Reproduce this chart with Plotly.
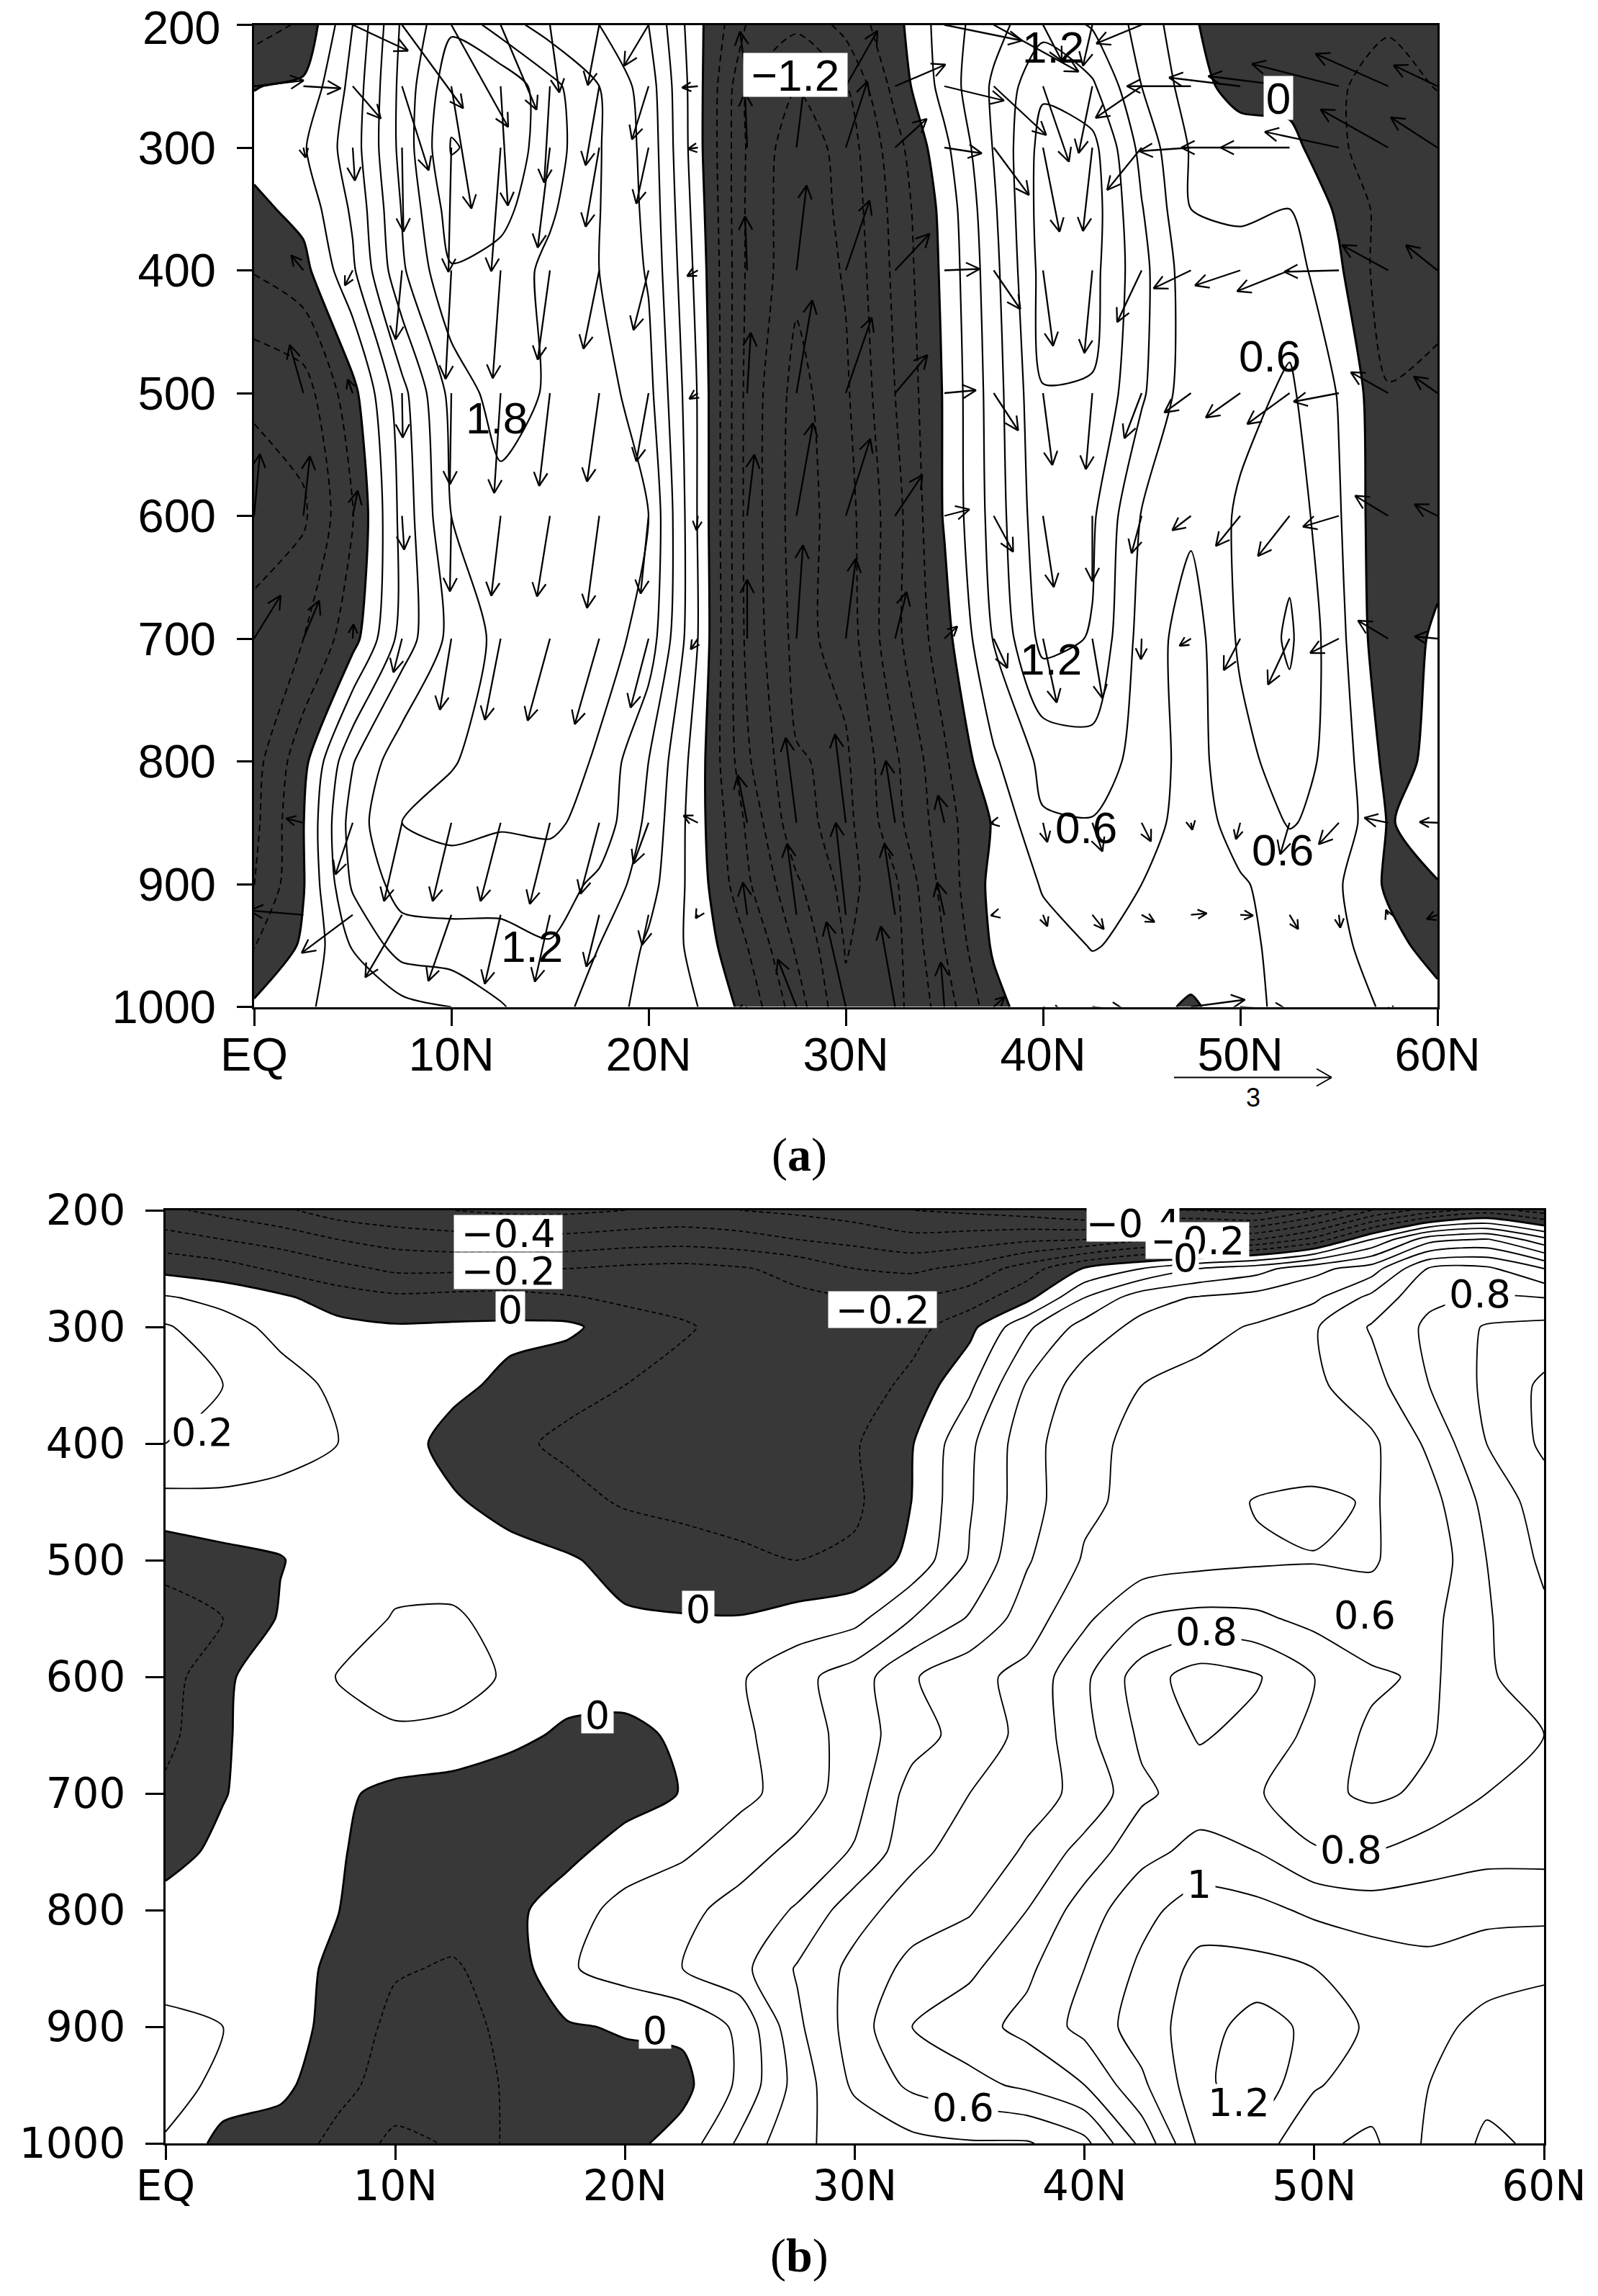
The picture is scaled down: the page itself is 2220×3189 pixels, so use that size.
import numpy as np
import plotly.graph_objects as go

W, H = 2220, 3189
LAT = [0, 2.5, 5, 7.5, 10, 12.5, 15, 17.5, 20, 22.5, 25, 27.5, 30, 32.5, 35, 37.5, 40, 42.5, 45, 47.5, 50, 52.5, 55, 57.5, 60]
LAT_TICKS = [0, 10, 20, 30, 40, 50, 60]
LAT_LABELS = ["EQ", "10N", "20N", "30N", "40N", "50N", "60N"]
P_TICKS = [200, 300, 400, 500, 600, 700, 800, 900, 1000]

# panel (a) field, one list per pressure level
PA = [200, 250, 300, 350, 400, 500, 600, 700, 800, 850, 900, 950, 1000]
A200 = [-.45, -.25, .6, 1.55, 2.05, 1.65, 1.35, 1.2, .9, .08, -.62, -.85, -.5, -.1, .45, .8, 1.1, .87, .5, .05, -.25, -.25, -.28, -.28, -.22]
A250 = [-.01, .05, .7, 1.6, 2.3, 2.35, 1.9, 1.5, 1.05, .1, -.9, -1.19, -.92, -.2, .42, .95, 1.45, 1.25, .6, .15, -.15, -.12, -.28, -.38, -.29]
A300 = [.12, .27, .75, 1.6, 2.42, 2.3, 1.95, 1.52, 1.1, .1, -.93, -1.4, -1.08, -.42, .22, .92, 1.62, 1.6, .8, .27, .2, .1, -.25, -.5, -.42]
A350 = [-.08, .1, .65, 1.52, 2.25, 2.2, 1.85, 1.51, 1.13, .15, -.95, -1.42, -1.12, -.5, .1, .85, 1.65, 1.65, .92, .3, .28, .3, -.05, -.44, -.42]
A400 = [-.28, -.1, .55, 1.45, 2.08, 1.98, 1.72, 1.5, 1.17, .2, -.95, -1.42, -1.17, -.53, .07, .8, 1.62, 1.6, 1.0, .4, .35, .45, .05, -.5, -.42]
A500 = [-.85, -.75, -.1, .8, 1.6, 1.95, 1.76, 1.65, 1.3, .28, -1.0, -1.62, -1.25, -.6, .03, .75, 1.49, 1.48, .95, .4, .5, .65, .28, -.28, -.22]
A600 = [-1.05, -.95, -.32, .7, 1.5, 1.68, 1.65, 1.6, 1.5, .28, -1.0, -1.65, -1.33, -.72, .03, .72, 1.42, 1.25, .58, .36, .65, .8, .33, -.28, -.2]
A700 = [-.8, -.6, -.12, .72, 1.3, 1.58, 1.65, 1.65, 1.38, .3, -.98, -1.6, -1.38, -.68, -.12, .62, 1.3, 1.18, .48, .15, .65, .95, .4, -.28, .08]
A800 = [-.72, -.1, .88, 1.42, 1.48, 1.62, 1.7, 1.45, .9, .15, -.85, -1.48, -1.55, -.95, -.35, .25, .68, .78, .48, .18, .5, .75, .48, -.1, .07]
A850 = [-.68, -.01, 1.05, 1.5, 1.6, 1.53, 1.55, 1.4, .82, .12, -.65, -1.42, -1.6, -1.0, -.42, .03, .57, .58, .45, .15, .42, .62, .5, -.02, .12]
A900 = [-.62, -.02, .95, 1.33, 1.33, 1.33, 1.36, 1.13, .72, .15, -.55, -1.15, -1.6, -1.25, -.48, .1, .32, .38, .3, .2, .27, .42, .33, -.05, -.01]
A950 = [-.32, .05, .62, 1.05, 1.1, 1.1, 1.18, .9, .55, .2, -.3, -.95, -1.52, -1.3, -.6, .05, .22, .31, .26, .2, .24, .38, .38, .1, -.12]
A1000 = [.05, .25, .45, .5, .6, .88, 1.05, .75, .5, .3, -.1, -.75, -1.45, -1.3, -.75, -.12, .25, .2, .12, -.05, .18, .4, .45, .25, .1]
ZA = [A200, A250, A300, A350, A400, A500, A600, A700, A800, A850, A900, A950, A1000]

# panel (b) field
PB = [200, 225, 250, 275, 300, 350, 400, 450, 500, 550, 600, 650, 700, 750, 800, 850, 900, 950, 1000]
B200 = [-.28, -.33, -.38, -.45, -.48, -.5, -.52, -.52, -.5, -.48, -.5, -.52, -.55, -.6, -.62, -.65, -.7, -.7, -.7, -.75, -.6, -.4, -.25, -.15, -.25]
B225 = [-.16, -.2, -.24, -.3, -.34, -.36, -.37, -.37, -.35, -.34, -.36, -.4, -.43, -.47, -.45, -.42, -.4, -.32, -.35, -.3, -.17, .1, .36, .41, .23]
B250 = [-.03, -.06, -.12, -.17, -.22, -.22, -.2, -.2, -.18, -.17, -.19, -.23, -.3, -.32, -.27, -.15, .01, .1, .2, .26, .37, .45, .71, .72, .6]
B275 = [.11, .07, .02, -.05, -.08, -.07, -.07, -.09, -.12, -.13, -.15, -.18, -.2, -.2, -.15, -.03, .2, .36, .41, .44, .48, .63, .78, .81, .8]
B300 = [.21, .14, .07, .03, .01, .015, .02, .02, -.05, -.09, -.13, -.15, -.17, -.14, -.03, .18, .34, .43, .47, .51, .59, .71, .82, .91, .93]
B350 = [.28, .2, .14, .08, .04, .02, -.02, -.07, -.1, -.13, -.16, -.17, -.16, -.07, .08, .31, .45, .5, .53, .55, .58, .66, .8, .92, 1.02]
B400 = [.2, .19, .16, .1, .04, -.03, -.08, -.12, -.14, -.15, -.16, -.16, -.11, -.005, .18, .36, .48, .52, .53, .53, .53, .58, .72, .9, 1.02]
B450 = [.07, .07, .05, .04, .03, .01, -.03, -.07, -.11, -.13, -.14, -.13, -.12, .002, .19, .36, .48, .53, .55, .607, .625, .59, .66, .83, .95]
B500 = [-.07, -.03, -.005, .05, .05, .05, .03, .01, -.03, -.05, -.08, -.1, -.08, .03, .21, .39, .51, .55, .57, .585, .595, .595, .63, .8, .92]
B550 = [-.14, -.1, .01, .03, .11, .115, .06, .03, .01, .005, .005, .04, .07, .2, .31, .45, .58, .7, .73, .72, .67, .62, .67, .79, .88]
B600 = [-.15, -.012, .04, .105, .13, .13, .09, .05, .05, .06, .09, .17, .25, .39, .47, .53, .68, .85, .95, .91, .8, .72, .68, .78, .88]
B650 = [-.13, -.01, .05, .06, .09, .08, .03, -.02, -.03, .02, .085, .14, .25, .36, .44, .53, .67, .82, .91, .87, .77, .68, .69, .77, .8]
B700 = [-.08, -.005, .05, .02, -.03, -.05, -.07, -.06, -.05, .005, .075, .14, .26, .44, .5, .57, .62, .78, .85, .81, .73, .68, .72, .8, .8]
B750 = [-.03, .02, .04, .01, -.05, -.07, -.07, -.03, .05, .085, .15, .23, .31, .47, .55, .61, .74, .87, .93, .9, .81, .8, .85, .87, .87]
B800 = [.03, .03, .03, .002, -.05, -.06, -.03, .06, .13, .17, .24, .31, .46, .55, .59, .7, .85, .97, 1.05, 1.03, .98, .95, .95, .97, .97]
B850 = [.05, .05, .04, -.02, -.09, -.11, -.06, .09, .14, .2, .27, .41, .53, .63, .68, .78, .9, 1.02, 1.13, 1.13, 1.1, 1.06, 1.03, 1.06, 1.08]
B900 = [.13, .1, .04, -.03, -.13, -.13, -.08, -.01, .01, .02, .12, .38, .55, .7, .76, .83, .93, 1.05, 1.15, 1.25, 1.17, 1.08, 1.07, 1.13, 1.15]
B950 = [.18, .05, .03, -.08, -.13, -.14, -.09, -.05, -.04, -.03, .12, .34, .52, .62, .67, .72, .8, .98, 1.17, 1.27, 1.11, 1.05, 1.1, 1.17, 1.17]
B1000 = [.08, -.03, -.06, -.12, -.23, -.19, -.08, -.05, -.03, .04, .22, .39, .42, .47, .49, .49, .57, .83, 1.12, 1.15, 1.02, .98, 1.12, 1.22, 1.18]
ZB = [B200, B225, B250, B275, B300, B350, B400, B450, B500, B550, B600, B650, B700, B750, B800, B850, B900, B950, B1000]

# wind vectors of panel (a): eastward and downward parts, on the scale where the key arrow "3" measures 219
PV = [200, 250, 300, 400, 500, 600, 700, 850, 925, 1000]
U200 = [0, 0, 77, 85, 79, 50, 13, -16, -34, 0, 0, 0, 0, 0, 108, 118, 26, -13, -63, 0, 0, 0, 0, 0, 0]
V200 = [0, 0, 36, 116, 142, 118, 94, 84, 57, 0, 0, 0, 0, 0, 22, 65, 50, 57, 26, 0, 0, 0, 0, 0, 0]
U250 = [69, 52, 39, 37, 28, 10, -8, -19, -23, -22, -10, 14, 44, 70, 83, 73, 36, -19, -64, -89, -99, -113, -121, -101, -61]
V250 = [-8, 3, 45, 117, 170, 166, 134, 110, 74, 2, -76, -29, -77, -30, 20, 68, 105, 93, 44, 0, -12, -14, -31, -45, -29]
U300 = [0, 3, 3, 2, -4, -13, -17, -19, -17, -14, -3, 14, 30, 44, 52, 49, 23, -13, -48, -72, -82, -96, -103, -94, -65]
V300 = [0, 14, 46, 117, 173, 172, 139, 110, 78, 2, -76, -114, -92, -40, 8, 66, 117, 116, 59, 5, 0, 0, -22, -53, -42]
U400 = [0, -17, -11, -9, -8, -11, -17, -22, -21, -15, -3, 14, 33, 48, 49, 37, 14, -11, -34, -52, -63, -73, -76, -64, -44]
V400 = [0, -21, 21, 96, 151, 150, 124, 109, 83, 8, -75, -118, -97, -51, -2, 54, 105, 115, 72, 25, 21, 29, 2, -35, -35]
U500 = [0, -19, -7, 1, -2, -9, -15, -17, -17, -12, 5, 22, 36, 45, 44, 34, 13, -9, -24, -37, -48, -59, -63, -52, -33]
V500 = [0, -67, -19, 62, 127, 139, 129, 123, 95, 8, -84, -129, -105, -53, -4, 52, 100, 106, 63, 27, 34, 43, 12, -29, -23]
U600 = [8, 9, 7, 3, -2, -13, -18, -17, -11, -2, 10, 23, 34, 38, 35, 27, 15, 0, -14, -26, -34, -44, -50, -46, -32]
V600 = [-86, -83, -35, 47, 105, 111, 112, 128, 108, 20, -85, -129, -107, -57, -9, 50, 99, 91, 52, 20, 42, 56, 15, -28, -16]
U700 = [37, 22, 1, -12, -16, -22, -31, -34, -25, -10, 0, 9, 14, 16, 18, 19, 19, 14, -1, -16, -23, -30, -40, -42, -32]
V700 = [-60, -53, -20, 47, 99, 113, 114, 119, 96, 15, -82, -130, -111, -65, -17, 41, 89, 83, 29, 10, 44, 64, 20, -25, -3]
U850 = [0, -24, -24, -25, -26, -28, -28, -26, -21, -20, -13, -15, -15, -13, -9, -5, 6, 14, 13, 2, -6, -13, -28, -33, -25]
V850 = [0, -6, 72, 109, 109, 109, 113, 99, 57, -10, -66, -118, -123, -86, -38, 1, 27, 40, 26, 10, 23, 44, 30, -7, -1]
U925 = [0, -75, -71, -51, -32, -22, -21, -18, -9, -3, -6, -13, -14, -15, -10, -4, 6, 16, 18, 22, 18, 12, 2, -3, -15]
V925 = [0, -6, 53, 87, 92, 96, 93, 72, 42, 5, -45, -99, -128, -99, -45, 1, 16, 20, 10, -2, 1, 20, 18, -7, 6]
U1000 = [0, 0, 0, 0, 0, 0, 0, 0, 0, 0, -14, -26, -27, -20, -5, 15, 30, 46, 0, 75, 67, 0, 0, 8, 0]
V1000 = [0, 0, 0, 0, 0, 0, 0, 0, 0, 0, 9, -66, -118, -112, -62, -14, 12, 5, 0, -10, 5, 0, 0, 12, 0]
UV = [U200, U250, U300, U400, U500, U600, U700, U850, U925, U1000]
VV = [V200, V250, V300, V400, V500, V600, V700, V850, V925, V1000]
KEY_VALUE = 3
KEY_LEN = 219

# panel frames in pixels
AX = (353, 1997, 34.5, 1398.5)
BX = (230, 2145, 1681, 2977)
DARK = "#383838"


def dom(box):
    return ([box[0] / W, box[1] / W], [1 - box[3] / H, 1 - box[2] / H])


def fieldtraces(z, ps, xa, ya, lev_pos, lev_neg, width, dash):
    com = dict(x=LAT, y=ps, z=z, xaxis=xa, yaxis=ya, showscale=False, hoverinfo="skip")
    return [
        go.Contour(contours=dict(type="constraint", operation=">", value=0), fillcolor=DARK,
                   line=dict(color="black", width=width + .8, smoothing=.7), **com),
        go.Contour(contours=dict(coloring="none", start=lev_pos[0], end=lev_pos[1], size=lev_pos[2]),
                   line=dict(color="black", width=width, smoothing=.7), **com),
        go.Contour(contours=dict(coloring="none", start=lev_neg[0], end=lev_neg[1], size=lev_neg[2]),
                   line=dict(color="black", width=width * .9, dash=dash, smoothing=.7), **com),
    ]


def arrow_xy(lon0, p0, dx, dy, kx, ky, barb=21):
    length = np.hypot(dx, dy)
    if length == 0:
        return [], []
    hx, hy = lon0 + dx * kx, p0 + dy * ky
    xs, ys = [lon0, hx], [p0, hy]
    ang = np.arctan2(dy, dx)
    b = min(barb, max(14, length * .6))
    for s in (1, -1):
        a = ang + np.pi + s * .47
        xs += [None, hx, hx + b * np.cos(a) * kx]
        ys += [None, hy, hy + b * np.sin(a) * ky]
    return xs + [None], ys + [None]


kx = 60 / (AX[1] - AX[0])
ky = 800 / (AX[3] - AX[2])
qx, qy = [], []
for p, ur, vr in zip(PV, UV, VV):
    for lat, u, v in zip(LAT, ur, vr):
        a, b = arrow_xy(lat, p, u, v, kx, ky)
        qx += a
        qy += b

fig = go.Figure()
for t in fieldtraces(ZA, PA, "x", "y", (.3, 2.4, .3), (-1.5, -.3, .3), 2.2, "9px,6px"):
    fig.add_trace(t)
fig.add_trace(go.Scatter(x=qx, y=qy, mode="lines", line=dict(color="black", width=2.3),
                         xaxis="x", yaxis="y", hoverinfo="skip", showlegend=False))
for t in fieldtraces(ZB, PB, "x2", "y2", (.1, 1.2, .1), (-.7, -.1, .1), 1.9, "6px,4px"):
    fig.add_trace(t)


def axis(box, is_x, font, stand, ticklen):
    d = dom(box)[0 if is_x else 1]
    base = dict(domain=d, showgrid=False, zeroline=False, showline=True, mirror=True, linecolor="black",
                linewidth=3, ticks="outside", ticklen=ticklen, tickwidth=3, tickcolor="black",
                tickfont=font, ticklabelstandoff=stand, automargin=False)
    if is_x:
        base.update(range=[0, 60], tickvals=LAT_TICKS, ticktext=LAT_LABELS)
    else:
        base.update(range=[1000, 200], tickvals=P_TICKS, ticktext=[str(v) for v in P_TICKS])
    return base


FA = dict(family="Liberation Sans", size=65, color="black")
FT = dict(family="Liberation Sans", size=62, color="black")
FB = dict(family="DejaVu Sans", size=58, color="black")

# the top label of panel (a) sits too near the page edge for an axis label, so it is an annotation
YA = axis(AX, False, FA, 16, 21)
YA["ticktext"] = [""] + YA["ticktext"][1:]

fig.update_layout(
    width=W, height=H, autosize=False, margin=dict(l=0, r=0, t=0, b=0), paper_bgcolor="white",
    plot_bgcolor="white", showlegend=False,
    xaxis=dict(axis(AX, True, FA, -16, 23), anchor="y"),
    yaxis=dict(YA, anchor="x"),
    xaxis2=dict(axis(BX, True, FB, -14, 20), anchor="y2"),
    yaxis2=dict(axis(BX, False, FB, 16, 25), anchor="x2"),
)

# contour labels of panel (a): text, latitude, pressure, white box or not
LABELS_A = [("1.8", 12.3, 520, False), ("−1.2", 27.45, 241, True), ("1.2", 40.5, 218, False), ("0", 51.94, 259.6, True),
            ("0.6", 51.5, 470, False), ("1.2", 40.4, 717, False), ("0.6", 42.2, 854, False), ("0.6", 52.15, 872, False),
            ("1.2", 14.1, 951, False)]
LABELS_B = [("−0.4", 14.9, 220, 150), ("−0.2", 14.9, 252, 150), ("0", 15, 285, 40), ("0.2", 1.6, 390, 90),
            ("0", 23.2, 542, 44), ("0", 18.8, 633, 44), ("0", 21.3, 903, 44), ("−0.2", 31.2, 285, 150),
            ("−0.4", 42.1, 211, 128), ("−0.2", 44.9, 226, 143), ("0", 44.4, 241, 36), ("0.8", 57.2, 271.5, 96),
            ("0.6", 52.2, 547, 96), ("0.8", 45.3, 561, 96), ("0.8", 51.6, 748, 96), ("1", 45, 778, 44),
            ("1.2", 46.7, 965, 96), ("0.6", 34.7, 969, 96)]
ann = []
for txt, la, pr, box in LABELS_A:
    ann.append(dict(x=la, y=pr, xref="x", yref="y", text=txt, showarrow=False, font=FT,
                    bgcolor="white" if box else "rgba(0,0,0,0)", borderpad=0,
                    width=(144 if len(txt) > 1 else 40) if box else None, height=60 if box else None))
for txt, la, pr, wd in LABELS_B:
    ann.append(dict(x=la, y=pr, xref="x2", yref="y2", text=txt, showarrow=False, font=dict(FB, size=54),
                    bgcolor="white", borderpad=0, width=wd, height=50))
ann.append(dict(x=1741 / W, y=1 - 1524 / H, xref="paper", yref="paper", text=str(KEY_VALUE), showarrow=False,
                xanchor="center", yanchor="middle", font=dict(family="Liberation Sans", size=36, color="black")))
ann.append(dict(x=308 / W, y=1, xref="paper", yref="paper", text=str(P_TICKS[0]), showarrow=False,
                xanchor="right", yanchor="top", font=FA))
for txt, yy in (("(<b>a</b>)", 1604), ("(<b>b</b>)", 3133)):
    ann.append(dict(x=1110 / W, y=1 - yy / H, xref="paper", yref="paper", text=txt, showarrow=False,
                    xanchor="center", yanchor="middle", font=dict(family="Liberation Serif", size=66, color="black")))
fig.update_layout(annotations=ann)

# key arrow under panel (a): it lies outside the axes, so it is drawn in page fractions
kx0, ky0 = 1631, 1496.5
kx1 = kx0 + KEY_LEN
segs = [(kx0, ky0, kx1, ky0), (kx1, ky0, kx1 - 21, ky0 - 12), (kx1, ky0, kx1 - 21, ky0 + 12)]
fig.update_layout(shapes=[dict(type="line", xref="paper", yref="paper", x0=a / W, y0=1 - b / H, x1=c / W, y1=1 - d / H,
                               line=dict(color="black", width=2)) for a, b, c, d in segs])

fig.write_html("out.html", config={"displayModeBar": False}, post_script="document.body.style.margin='0';")
